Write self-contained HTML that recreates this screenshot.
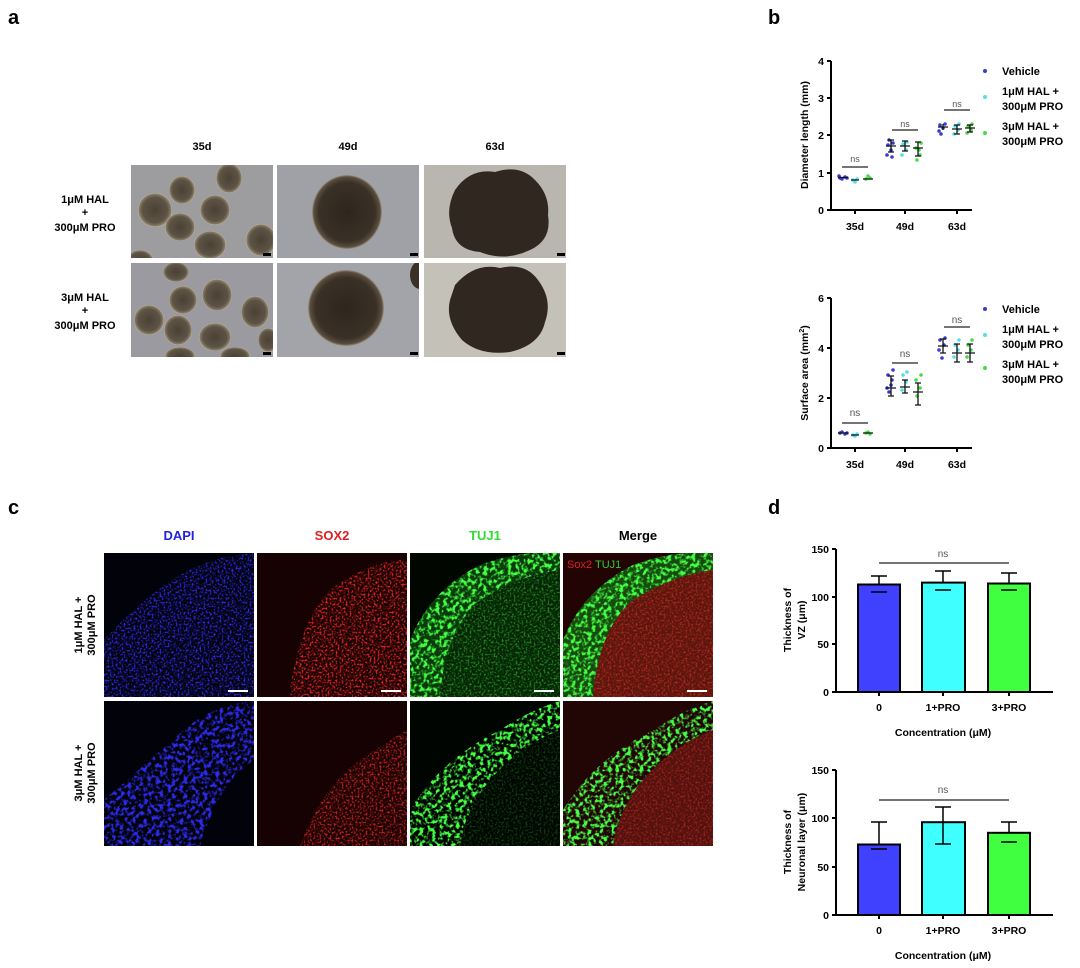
<!DOCTYPE html>
<html><head><meta charset="utf-8">
<style>
body{margin:0;background:#fff;}
svg{display:block;font-family:"Liberation Sans",Arial,sans-serif;}
.b{font-weight:bold;}
</style></head><body>
<svg width="1080" height="968" viewBox="0 0 1080 968" xmlns="http://www.w3.org/2000/svg">
<defs>
<radialGradient id="sph" cx="50%" cy="50%" r="50%">
<stop offset="0" stop-color="#2e261e"/><stop offset="0.8" stop-color="#3a3026"/><stop offset="0.95" stop-color="#5a4e40"/><stop offset="1" stop-color="#a09480"/>
</radialGradient>
<radialGradient id="sm" cx="50%" cy="50%" r="50%">
<stop offset="0" stop-color="#4a4034"/><stop offset="0.75" stop-color="#5e5446"/><stop offset="0.95" stop-color="#8a7e6a"/><stop offset="1" stop-color="#cfc3a8"/>
</radialGradient>
<filter id="sp" x="0" y="0" width="100%" height="100%">
<feTurbulence type="fractalNoise" baseFrequency="0.5" numOctaves="2" seed="4" result="n"/>
<feColorMatrix in="n" type="matrix" values="0 0 0 0 0 0 0 0 0 0 0 0 0 0 0 4 0 0 0 -1.9" result="m"/>
<feComposite in="SourceGraphic" in2="m" operator="in"/>
</filter>
<filter id="sp2" x="0" y="0" width="100%" height="100%">
<feTurbulence type="fractalNoise" baseFrequency="0.25" numOctaves="2" seed="9" result="n"/>
<feColorMatrix in="n" type="matrix" values="0 0 0 0 0 0 0 0 0 0 0 0 0 0 0 5 0 0 0 -2.3" result="m"/>
<feComposite in="SourceGraphic" in2="m" operator="in"/>
</filter>
<clipPath id="c1"><rect x="104" y="553" width="150" height="144"/></clipPath>
<clipPath id="c2"><rect x="257" y="553" width="150" height="144"/></clipPath>
<clipPath id="c3"><rect x="410" y="553" width="150" height="144"/></clipPath>
<clipPath id="c4"><rect x="563" y="553" width="150" height="144"/></clipPath>
<clipPath id="d1"><rect x="104" y="701" width="150" height="145"/></clipPath>
<clipPath id="d2"><rect x="257" y="701" width="150" height="145"/></clipPath>
<clipPath id="d3"><rect x="410" y="701" width="150" height="145"/></clipPath>
<clipPath id="d4"><rect x="563" y="701" width="150" height="145"/></clipPath>
<clipPath id="a1"><rect x="131" y="165" width="142" height="93"/></clipPath>
<clipPath id="a4"><rect x="131" y="263" width="142" height="94"/></clipPath>
<clipPath id="a5"><rect x="277" y="263" width="142" height="94"/></clipPath>
</defs>

<text x="8" y="24" class="b" font-size="20">a</text>
<text x="768" y="24" class="b" font-size="20">b</text>
<text x="8" y="514" class="b" font-size="20">c</text>
<text x="768" y="514" class="b" font-size="20">d</text>

<!-- Panel a -->
<g class="b" font-size="11" text-anchor="middle">
<text x="202" y="150">35d</text><text x="348" y="150">49d</text><text x="495" y="150">63d</text>
<text x="85" y="203">1μM HAL</text><text x="85" y="216">+</text><text x="85" y="231">300μM PRO</text>
<text x="85" y="301">3μM HAL</text><text x="85" y="314">+</text><text x="85" y="329">300μM PRO</text>
</g>
<rect x="131" y="165" width="142" height="93" fill="#9d9d9f"/>
<g clip-path="url(#a1)" fill="url(#sm)">
<ellipse cx="155" cy="210" rx="17" ry="17"/><ellipse cx="182" cy="190" rx="13" ry="14"/><ellipse cx="229" cy="178" rx="13" ry="15"/>
<ellipse cx="215" cy="210" rx="15" ry="15"/><ellipse cx="180" cy="227" rx="15" ry="14"/><ellipse cx="210" cy="245" rx="16" ry="14"/>
<ellipse cx="261" cy="240" rx="15" ry="16"/><ellipse cx="140" cy="260" rx="13" ry="10"/>
</g>
<rect x="277" y="165" width="142" height="93" fill="#a0a1a6"/>
<ellipse cx="347" cy="212" rx="35" ry="37" fill="url(#sph)"/>
<rect x="424" y="165" width="142" height="93" fill="#b8b6ae"/>
<path d="M455 190 Q470 168 495 172 Q520 164 535 180 Q550 195 548 215 Q552 240 530 250 Q505 262 480 252 Q455 250 452 228 Q445 210 455 190Z" fill="#302820"/>
<rect x="131" y="263" width="142" height="94" fill="#9a9aa0"/>
<g clip-path="url(#a4)" fill="url(#sm)">
<ellipse cx="176" cy="272" rx="13" ry="10"/><ellipse cx="217" cy="295" rx="15" ry="16"/><ellipse cx="183" cy="300" rx="14" ry="14"/>
<ellipse cx="149" cy="320" rx="15" ry="15"/><ellipse cx="178" cy="330" rx="14" ry="15"/><ellipse cx="215" cy="337" rx="16" ry="14"/>
<ellipse cx="255" cy="312" rx="14" ry="16"/><ellipse cx="180" cy="356" rx="15" ry="9"/><ellipse cx="235" cy="356" rx="15" ry="9"/><ellipse cx="268" cy="340" rx="10" ry="12"/>
</g>
<rect x="277" y="263" width="142" height="94" fill="#a3a3aa"/>
<g clip-path="url(#a5)"><ellipse cx="346" cy="308" rx="38" ry="38" fill="url(#sph)"/><ellipse cx="420" cy="275" rx="10" ry="14" fill="#3a3026"/></g>
<rect x="424" y="263" width="142" height="94" fill="#c3c1b8"/>
<path d="M455 285 Q475 262 500 268 Q525 262 538 280 Q553 300 545 322 Q540 345 510 352 Q480 356 462 340 Q445 320 450 300Z" fill="#302820"/>
<g fill="#000"><rect x="263" y="253" width="8" height="3"/><rect x="410" y="253" width="8" height="3"/><rect x="557" y="253" width="8" height="3"/><rect x="263" y="352" width="8" height="3"/><rect x="410" y="352" width="8" height="3"/><rect x="557" y="352" width="8" height="3"/></g>

<!-- Panel b top -->
<g stroke="#000" stroke-width="2" fill="none">
<path d="M831 61 V210 H972"/>
<path d="M827 61 H831 M827 98 H831 M827 135 H831 M827 173 H831 M827 210 H831 M855 210 V214 M905 210 V214 M957 210 V214"/>
</g>
<g class="b" font-size="10.5" text-anchor="end">
<text x="824" y="65">4</text><text x="824" y="102">3</text><text x="824" y="139">2</text><text x="824" y="177">1</text><text x="824" y="214">0</text>
</g>
<text transform="translate(808,135) rotate(-90)" text-anchor="middle" class="b" font-size="10.5">Diameter length (mm)</text>
<g class="b" font-size="10.5" text-anchor="middle"><text x="855" y="230">35d</text><text x="905" y="230">49d</text><text x="957" y="230">63d</text></g>
<g font-size="9" fill="#555" text-anchor="middle"><text x="855" y="162">ns</text><text x="905" y="127">ns</text><text x="957" y="107">ns</text></g>
<g stroke="#222" stroke-width="1.3"><path d="M842 167 H868 M892 130 H918 M944 110 H970"/></g>
<g fill="#3a3ad0"><circle cx="840" cy="178" r="1.8"/><circle cx="845" cy="177" r="1.8"/><circle cx="842" cy="179" r="1.8"/><circle cx="847" cy="178" r="1.8"/><circle cx="839" cy="176" r="1.8"/></g>
<g fill="#55dde8"><circle cx="853" cy="180" r="1.8"/><circle cx="857" cy="179" r="1.8"/><circle cx="855" cy="182" r="1.8"/></g>
<g fill="#44dd44"><circle cx="866" cy="179" r="1.8"/><circle cx="870" cy="178" r="1.8"/><circle cx="868" cy="176" r="1.8"/></g>
<g fill="#3a3ad0"><circle cx="888" cy="145" r="1.8"/><circle cx="891" cy="150" r="1.8"/><circle cx="887" cy="155" r="1.8"/><circle cx="893" cy="143" r="1.8"/><circle cx="889" cy="140" r="1.8"/><circle cx="892" cy="157" r="1.8"/></g>
<g fill="#55dde8"><circle cx="903" cy="144" r="1.8"/><circle cx="906" cy="150" r="1.8"/><circle cx="902" cy="155" r="1.8"/><circle cx="907" cy="142" r="1.8"/></g>
<g fill="#44dd44"><circle cx="916" cy="148" r="1.8"/><circle cx="920" cy="155" r="1.8"/><circle cx="917" cy="160" r="1.8"/><circle cx="921" cy="143" r="1.8"/><circle cx="919" cy="150" r="1.8"/></g>
<g fill="#3a3ad0"><circle cx="940" cy="125" r="1.8"/><circle cx="943" cy="128" r="1.8"/><circle cx="939" cy="131" r="1.8"/><circle cx="945" cy="124" r="1.8"/><circle cx="941" cy="134" r="1.8"/></g>
<g fill="#55dde8"><circle cx="955" cy="126" r="1.8"/><circle cx="958" cy="130" r="1.8"/><circle cx="954" cy="134" r="1.8"/><circle cx="959" cy="124" r="1.8"/></g>
<g fill="#44dd44"><circle cx="968" cy="126" r="1.8"/><circle cx="971" cy="130" r="1.8"/><circle cx="967" cy="133" r="1.8"/><circle cx="972" cy="124" r="1.8"/></g>
<g stroke="#111" stroke-width="1.3" fill="none">
<path d="M838 177.5 H848 M851 180 H859 M863 179 H873"/>
<path d="M886 146 H896 M891 140 V152 M888 140 H894 M888 152 H894"/>
<path d="M900 146 H910 M905 141 V151 M902 141 H908 M902 151 H908"/>
<path d="M913 148 H923 M918 142 V156 M915 142 H921 M915 156 H921"/>
<path d="M938 127 H948 M943 124 V130"/>
<path d="M952 129 H962 M957 125 V134 M954 125 H960 M954 134 H960"/>
<path d="M965 128 H975 M970 125 V132 M967 125 H973 M967 132 H973"/>
</g>
<circle cx="985" cy="71" r="2" fill="#3a3ad0"/><circle cx="985" cy="97" r="2" fill="#55dde8"/><circle cx="985" cy="133" r="2" fill="#44dd44"/>
<g class="b" font-size="11"><text x="1002" y="75">Vehicle</text><text x="1002" y="95">1μM HAL +</text><text x="1002" y="110">300μM PRO</text><text x="1002" y="130">3μM HAL +</text><text x="1002" y="145">300μM PRO</text></g>

<!-- Panel b bottom -->
<g stroke="#000" stroke-width="2" fill="none">
<path d="M831 298 V448 H972"/>
<path d="M827 298 H831 M827 348 H831 M827 398 H831 M827 448 H831 M855 448 V452 M905 448 V452 M957 448 V452"/>
</g>
<g class="b" font-size="10.5" text-anchor="end"><text x="824" y="302">6</text><text x="824" y="352">4</text><text x="824" y="402">2</text><text x="824" y="452">0</text></g>
<text transform="translate(808,373) rotate(-90)" text-anchor="middle" class="b" font-size="10.5">Surface area (mm<tspan font-size="7" dy="-4">2</tspan><tspan dy="4">)</tspan></text>
<g class="b" font-size="10.5" text-anchor="middle"><text x="855" y="468">35d</text><text x="905" y="468">49d</text><text x="957" y="468">63d</text></g>
<g font-size="10" fill="#555" text-anchor="middle"><text x="855" y="416">ns</text><text x="905" y="357">ns</text><text x="957" y="323">ns</text></g>
<g stroke="#222" stroke-width="1.3"><path d="M842 423 H868 M892 363 H918 M944 327 H970"/></g>
<g fill="#3a3ad0"><circle cx="840" cy="433" r="1.8"/><circle cx="845" cy="434" r="1.8"/><circle cx="842" cy="432" r="1.8"/><circle cx="847" cy="433" r="1.8"/>
<circle cx="888" cy="375" r="1.8"/><circle cx="892" cy="380" r="1.8"/><circle cx="887" cy="388" r="1.8"/><circle cx="893" cy="370" r="1.8"/><circle cx="889" cy="392" r="1.8"/><circle cx="891" cy="385" r="1.8"/>
<circle cx="940" cy="340" r="1.8"/><circle cx="944" cy="345" r="1.8"/><circle cx="939" cy="350" r="1.8"/><circle cx="945" cy="338" r="1.8"/><circle cx="942" cy="358" r="1.8"/></g>
<g fill="#55dde8"><circle cx="853" cy="435" r="1.8"/><circle cx="857" cy="434" r="1.8"/><circle cx="855" cy="436" r="1.8"/>
<circle cx="903" cy="375" r="1.8"/><circle cx="906" cy="382" r="1.8"/><circle cx="902" cy="390" r="1.8"/><circle cx="907" cy="372" r="1.8"/>
<circle cx="955" cy="345" r="1.8"/><circle cx="958" cy="350" r="1.8"/><circle cx="954" cy="357" r="1.8"/><circle cx="959" cy="340" r="1.8"/></g>
<g fill="#44dd44"><circle cx="866" cy="433" r="1.8"/><circle cx="870" cy="434" r="1.8"/><circle cx="868" cy="432" r="1.8"/>
<circle cx="916" cy="380" r="1.8"/><circle cx="920" cy="388" r="1.8"/><circle cx="917" cy="396" r="1.8"/><circle cx="921" cy="375" r="1.8"/>
<circle cx="968" cy="345" r="1.8"/><circle cx="971" cy="350" r="1.8"/><circle cx="967" cy="357" r="1.8"/><circle cx="972" cy="340" r="1.8"/></g>
<g stroke="#111" stroke-width="1.3" fill="none">
<path d="M838 433 H848 M851 435 H859 M863 433 H873"/>
<path d="M886 388 H896 M891 376 V396 M888 376 H894 M888 396 H894"/>
<path d="M900 387 H910 M905 380 V393 M902 380 H908 M902 393 H908"/>
<path d="M913 392 H923 M918 383 V405 M915 383 H921 M915 405 H921"/>
<path d="M938 346 H948 M943 339 V353 M940 339 H946 M940 353 H946"/>
<path d="M952 353 H962 M957 344 V362 M954 344 H960 M954 362 H960"/>
<path d="M965 353 H975 M970 344 V362 M967 344 H973 M967 362 H973"/>
</g>
<circle cx="985" cy="309" r="2" fill="#3a3ad0"/><circle cx="985" cy="335" r="2" fill="#55dde8"/><circle cx="985" cy="368" r="2" fill="#44dd44"/>
<g class="b" font-size="11"><text x="1002" y="313">Vehicle</text><text x="1002" y="333">1μM HAL +</text><text x="1002" y="348">300μM PRO</text><text x="1002" y="368">3μM HAL +</text><text x="1002" y="383">300μM PRO</text></g>

<!-- Panel c -->
<g class="b" font-size="13" text-anchor="middle">
<text x="179" y="540" fill="#2222dd">DAPI</text><text x="332" y="540" fill="#e02020">SOX2</text><text x="485" y="540" fill="#30dd30">TUJ1</text><text x="638" y="540">Merge</text>
</g>
<g class="b" font-size="11" text-anchor="middle">
<text transform="translate(82,625) rotate(-90)">1μM HAL +</text><text transform="translate(95,625) rotate(-90)">300μM PRO</text>
<text transform="translate(82,773) rotate(-90)">3μM HAL +</text><text transform="translate(95,773) rotate(-90)">300μM PRO</text>
</g>
<rect x="104" y="553" width="150" height="144" fill="#02020a"/>
<g clip-path="url(#c1)"><path d="M104 640 Q140 600 180 575 Q215 555 254 553 V697 H104Z" fill="#2a2ae8" filter="url(#sp)"/></g>
<rect x="257" y="553" width="150" height="144" fill="#160203"/>
<g clip-path="url(#c2)"><path d="M290 690 Q300 620 330 590 Q370 560 407 560 V697 H290Z" fill="#e82424" filter="url(#sp)"/></g>
<rect x="410" y="553" width="150" height="144" fill="#010601"/>
<g clip-path="url(#c3)">
<path d="M410 697 V640 Q430 590 480 565 Q520 550 560 553 V697Z" fill="#0a3a0a"/>
<path d="M410 697 V640 Q430 590 480 565 Q520 550 560 553 V697Z" fill="#44ff44" filter="url(#sp2)"/>
<path d="M440 697 Q445 630 480 600 Q520 575 560 570 V697Z" fill="#052205"/>
<path d="M440 697 Q445 630 480 600 Q520 575 560 570 V697Z" fill="#2ec82e" filter="url(#sp)" opacity="0.6"/>
</g>
<rect x="563" y="553" width="150" height="144" fill="#220404"/>
<g clip-path="url(#c4)">
<path d="M563 697 V640 Q583 590 633 565 Q673 550 713 553 V697Z" fill="#164a0e"/>
<path d="M563 697 V640 Q583 590 633 565 Q673 550 713 553 V697Z" fill="#44ff44" filter="url(#sp2)"/>
<path d="M593 697 Q598 630 633 600 Q673 575 713 570 V697Z" fill="#5a160e"/>
<path d="M593 697 Q598 630 633 600 Q673 575 713 570 V697Z" fill="#d03020" filter="url(#sp)" opacity="0.7"/>
</g>
<rect x="565" y="557" width="58" height="14" fill="#220404"/>
<text x="567" y="568" font-size="11" fill="#e02020">Sox2</text><text x="595" y="568" font-size="11" fill="#30cc30">TUJ1</text>
<g fill="#fff"><rect x="228" y="690" width="20" height="2"/><rect x="381" y="690" width="20" height="2"/><rect x="534" y="690" width="20" height="2"/><rect x="687" y="690" width="20" height="2"/></g>
<rect x="104" y="701" width="150" height="145" fill="#02020a"/>
<g clip-path="url(#d1)"><path d="M104 846 V800 Q150 760 190 725 Q215 705 254 701 V760 Q220 780 200 846Z" fill="#2a2ae8" filter="url(#sp2)"/></g>
<rect x="257" y="701" width="150" height="145" fill="#160203"/>
<g clip-path="url(#d2)"><path d="M300 846 Q320 790 360 760 Q390 740 407 730 V846Z" fill="#c82020" filter="url(#sp)"/></g>
<rect x="410" y="701" width="150" height="145" fill="#010501"/>
<g clip-path="url(#d3)">
<path d="M410 846 V810 Q440 760 500 730 Q530 710 560 701 V730 Q520 745 490 780 Q465 810 460 846Z" fill="#44ff44" filter="url(#sp2)"/>
<path d="M460 846 Q465 810 490 780 Q520 745 560 730 V846Z" fill="#1a7a1a" filter="url(#sp)" opacity="0.5"/>
</g>
<rect x="563" y="701" width="150" height="145" fill="#220606"/>
<g clip-path="url(#d4)">
<path d="M563 846 V810 Q593 760 653 730 Q683 710 713 701 V730 Q673 745 643 780 Q618 810 613 846Z" fill="#44ff44" filter="url(#sp2)"/>
<path d="M613 846 Q618 810 643 780 Q673 745 713 730 V846Z" fill="#501210"/>
<path d="M613 846 Q618 810 643 780 Q673 745 713 730 V846Z" fill="#c02818" filter="url(#sp)" opacity="0.7"/>
</g>

<!-- Panel d top -->
<g stroke="#000" stroke-width="2">
<rect x="858" y="584.5" width="42" height="107.5" fill="#4040ff"/>
<rect x="922" y="582.6" width="43" height="109.4" fill="#40ffff"/>
<rect x="988" y="583.5" width="42" height="108.5" fill="#40ff40"/>
</g>
<g stroke="#000" stroke-width="1.5" fill="none">
<path d="M879 584 V576 M871 576 H887 M871 592 H887"/>
<path d="M943 583 V571 M935 571 H951 M935 590 H951"/>
<path d="M1009 584 V573 M1001 573 H1017 M1001 590 H1017"/>
</g>
<g stroke="#000" stroke-width="2" fill="none"><path d="M836 549 V692 H1053 M832 549 H836 M832 597 H836 M832 644 H836 M832 692 H836 M879 692 V696 M943 692 V696 M1009 692 V696"/></g>
<path d="M879 563 H1009" stroke="#222" stroke-width="1.3"/>
<text x="943" y="557" text-anchor="middle" font-size="10" fill="#555">ns</text>
<g class="b" font-size="10.5" text-anchor="end"><text x="829" y="553">150</text><text x="829" y="601">100</text><text x="829" y="648">50</text><text x="829" y="696">0</text></g>
<g class="b" font-size="10.5" text-anchor="middle"><text x="879" y="711">0</text><text x="943" y="711">1+PRO</text><text x="1009" y="711">3+PRO</text><text x="943" y="736">Concentration (μM)</text></g>
<text transform="translate(791,620) rotate(-90)" text-anchor="middle" class="b" font-size="10.5">Thickness of</text>
<text transform="translate(805,620) rotate(-90)" text-anchor="middle" class="b" font-size="10.5">VZ (μm)</text>

<!-- Panel d bottom -->
<g stroke="#000" stroke-width="2">
<rect x="858" y="844.5" width="42" height="70.5" fill="#4040ff"/>
<rect x="922" y="822.2" width="43" height="92.8" fill="#40ffff"/>
<rect x="988" y="832.8" width="42" height="82.2" fill="#40ff40"/>
</g>
<g stroke="#000" stroke-width="1.5" fill="none">
<path d="M879 844 V822 M871 822 H887 M871 849 H887"/>
<path d="M943 822 V807 M935 807 H951 M935 844 H951 M943 844 V822"/>
<path d="M1009 833 V822 M1001 822 H1017 M1001 842 H1017"/>
</g>
<g stroke="#000" stroke-width="2" fill="none"><path d="M836 770 V915 H1053 M832 770 H836 M832 818 H836 M832 867 H836 M832 915 H836 M879 915 V919 M943 915 V919 M1009 915 V919"/></g>
<path d="M879 800 H1009" stroke="#222" stroke-width="1.3"/>
<text x="943" y="793" text-anchor="middle" font-size="10" fill="#555">ns</text>
<g class="b" font-size="10.5" text-anchor="end"><text x="829" y="774">150</text><text x="829" y="822">100</text><text x="829" y="871">50</text><text x="829" y="919">0</text></g>
<g class="b" font-size="10.5" text-anchor="middle"><text x="879" y="934">0</text><text x="943" y="934">1+PRO</text><text x="1009" y="934">3+PRO</text><text x="943" y="959">Concentration (μM)</text></g>
<text transform="translate(791,842) rotate(-90)" text-anchor="middle" class="b" font-size="10.5">Thickness of</text>
<text transform="translate(805,842) rotate(-90)" text-anchor="middle" class="b" font-size="10.5">Neuronal layer (μm)</text>
</svg>
</body></html>
